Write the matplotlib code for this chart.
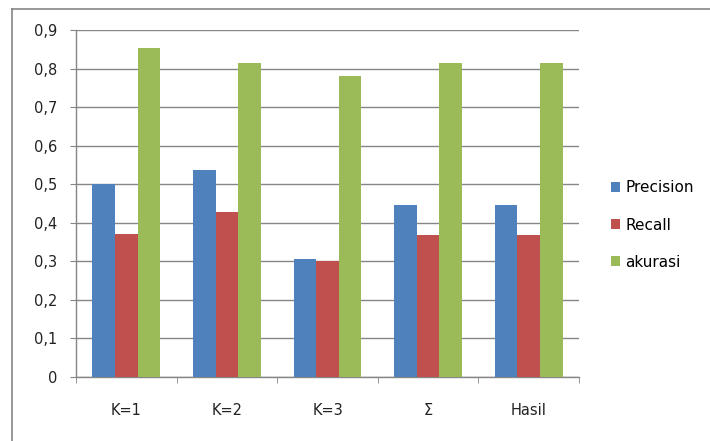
import numpy as np
import matplotlib
matplotlib.use('Agg')
import matplotlib.pyplot as plt
from matplotlib.lines import Line2D

categories = ['K=1', 'K=2', 'K=3', 'Σ', 'Hasil']
precision = [0.500, 0.538, 0.306, 0.447, 0.447]
recall = [0.372, 0.428, 0.301, 0.369, 0.369]
akurasi = [0.854, 0.815, 0.780, 0.815, 0.815]
series_names = ['Precision', 'Recall', 'akurasi']
colors = ['#4F81BD', '#C0504D', '#9BBB59']
yticks = [0, 0.1, 0.2, 0.3, 0.4, 0.5, 0.6, 0.7, 0.8, 0.9]
ytick_labels = ['0', '0,1', '0,2', '0,3', '0,4', '0,5', '0,6', '0,7', '0,8', '0,9']

plt.rcParams['font.family'] = ['DejaVu Sans']
plt.rcParams['font.size'] = 10.5
grey = '#868686'

fig = plt.figure(figsize=(7.1, 4.41), dpi=100)
ax = fig.add_axes([76 / 710, 1 - 377 / 441, (579 - 76) / 710, (377 - 30) / 441])

# outer chart frame (only top and left edges are visible in the crop)
fig.add_artist(Line2D([12 / 710, 1], [1 - 8.5 / 441, 1 - 8.5 / 441], color=grey, lw=1.2))
fig.add_artist(Line2D([12 / 710, 12 / 710], [0, 1 - 8.5 / 441], color=grey, lw=1.2))

x = np.arange(len(categories)) + 0.5
w = 0.225
for i, (vals, name) in enumerate(zip([precision, recall, akurasi], series_names)):
    ax.bar(x + (i - 1) * w, vals, width=w, color=colors[i], label=name, zorder=3)

ax.set_xlim(0, len(categories))
ax.set_ylim(0, 0.9)
ax.set_yticks(yticks)
ax.set_yticklabels(ytick_labels)
ax.yaxis.grid(True, color=grey, lw=1, zorder=0)

ax.set_xticks(x)
ax.set_xticklabels(categories)
ax.set_xticks(np.arange(len(categories) + 1), minor=True)
ax.tick_params(axis='x', which='major', length=0, pad=19, colors='#222222')
ax.tick_params(axis='x', which='minor', length=4.5, direction='out', color=grey)
ax.tick_params(axis='y', length=4.5, direction='out', color=grey, pad=9, colors='#222222')
ax.tick_params(axis='y', color=grey)

for s in ['top', 'right']:
    ax.spines[s].set_visible(False)
for s in ['left', 'bottom']:
    ax.spines[s].set_color(grey)
    ax.spines[s].set_linewidth(1)

fig.legend(loc='center left', bbox_to_anchor=(611 / 710, 1 - 225 / 441), frameon=False,
           fontsize=11, handlelength=0.6, handleheight=0.6, handletextpad=0.35,
           labelspacing=1.45, borderaxespad=0, borderpad=0)

fig.savefig('out.png', dpi=100)
